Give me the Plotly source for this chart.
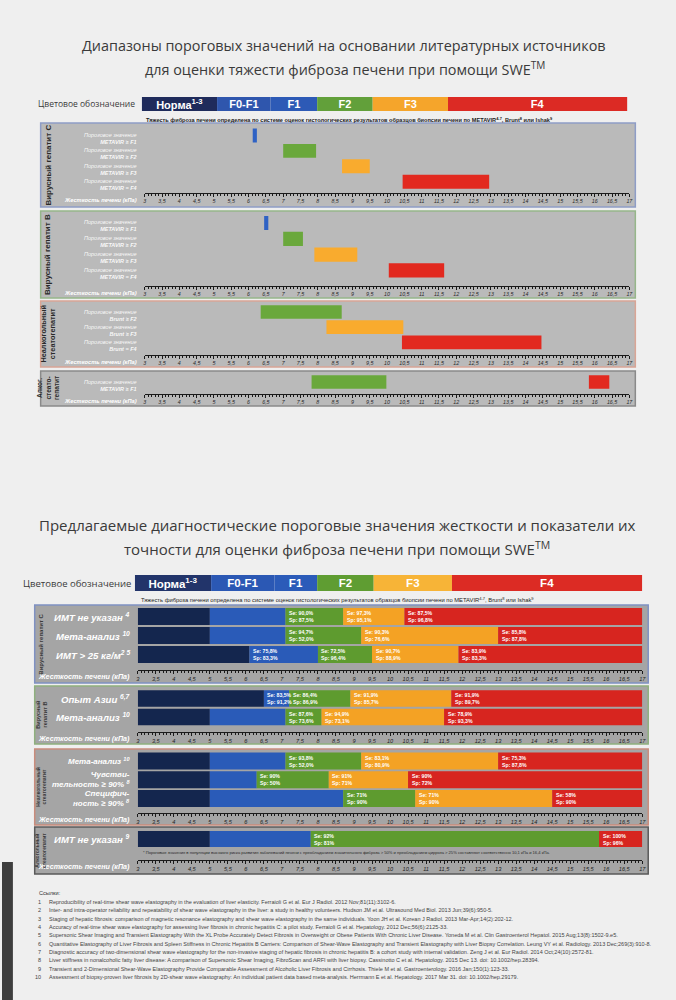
import plotly.graph_objects as go

# ======================= DATA =======================
title_top = ["Диапазоны пороговых значений на основании литературных источников",
             "для оценки тяжести фиброза печени при помощи SWE<sup>TM</sup>"]
title_bottom = ["Предлагаемые диагностические пороговые значения жесткости и показатели их",
                "точности для оценки фиброза печени при помощи SWE<sup>TM</sup>"]
legend_caption = "Цветовое обозначение"
legend_stages = ["Норма<sup>1-3</sup>", "F0-F1", "F1", "F2", "F3", "F4"]
histology_note = ("Тяжесть фиброза печени определена по системе оценок гистологических результатов "
                  "образцов биопсии печени по METAVIR<sup>4-7</sup>, Brunt<sup>8</sup> или Ishak<sup>9</sup>")
axis_title = "Жесткость печени (кПа)"
kpa_min, kpa_max = 3, 17
kpa_ticks = [3, 3.5, 4, 4.5, 5, 5.5, 6, 6.5, 7, 7.5, 8, 8.5, 9, 9.5, 10, 10.5, 11, 11.5,
             12, 12.5, 13, 13.5, 14, 14.5, 15, 15.5, 16, 16.5, 17]
kpa_labels = ["3", "3,5", "4", "4,5", "5", "5,5", "6", "6,5", "7", "7,5", "8", "8,5", "9", "9,5",
              "10", "10,5", "11", "11,5", "12", "12,5", "13", "13,5", "14", "14,5", "15", "15,5",
              "16", "16,5", "17"]

# --- top section: literature threshold ranges ---
threshold_caption = "Пороговое значение"
top_groups = ["Вирусный гепатит С", "Вирусный гепатит В", "Неалкогольный<br>стеатогепатит",
              "Алког.<br>стеато-<br>гепатит"]

top_hcv_rows = ["METAVIR ≥ F1", "METAVIR ≥ F2", "METAVIR ≥ F3", "METAVIR = F4"]
top_hcv_row = [0, 1, 2, 3]
top_hcv_stage = ["F1", "F2", "F3", "F4"]
top_hcv_low = [6.12, 7.0, 8.7, 10.45]
top_hcv_high = [6.24, 7.95, 9.5, 12.95]

top_hbv_rows = ["METAVIR ≥ F1", "METAVIR ≥ F2", "METAVIR ≥ F3", "METAVIR = F4"]
top_hbv_row = [0, 1, 2, 3]
top_hbv_stage = ["F1", "F2", "F3", "F4"]
top_hbv_low = [6.45, 7.0, 7.9, 10.05]
top_hbv_high = [6.57, 7.57, 9.14, 11.65]

top_nafld_rows = ["Brunt ≥ F2", "Brunt ≥ F3", "Brunt = F4"]
top_nafld_row = [0, 1, 2]
top_nafld_stage = ["F2", "F3", "F4"]
top_nafld_low = [6.35, 8.25, 10.43]
top_nafld_high = [8.69, 10.47, 14.46]

top_ald_rows = ["METAVIR ≥ F1"]
top_ald_row = [0, 0]
top_ald_stage = ["F2", "F4"]
top_ald_low = [7.82, 15.83]
top_ald_high = [9.98, 16.42]

# --- bottom section: proposed cut-offs with Se / Sp ---
bot_groups = ["Вирусный гепатит С", "Вирусный<br>гепатит В", "Неалкогольный<br>стеатогепатит",
              "Алкогольный<br>стеатогепатит"]

bot_hcv_rows = ["ИМТ не указан <sup>4</sup>", "Мета-анализ <sup>10</sup>", "ИМТ > 25 кг/м<sup>2 5</sup>"]
bot_hcv_cuts = [[5.0, 7.1, 8.7, 10.4], [5.0, 7.1, 9.2, 13.0], [6.1, 8.0, 9.5, 11.9]]
bot_hcv_se = [[None, None, "90,0%", "97,3%", "87,5%"],
              [None, None, "94,7%", "90,3%", "85,8%"],
              [None, "75,8%", "72,5%", "90,7%", "83,9%"]]
bot_hcv_sp = [[None, None, "87,5%", "95,1%", "96,8%"],
              [None, None, "52,0%", "76,6%", "87,8%"],
              [None, "83,3%", "96,4%", "88,9%", "83,3%"]]

bot_hbv_rows = ["Опыт Азии <sup>6,7</sup>", "Мета-анализ <sup>10</sup>"]
bot_hbv_cuts = [[6.5, 7.2, 8.9, 11.7], [5.0, 7.1, 8.1, 11.5]]
bot_hbv_se = [[None, "83,5%", "86,4%", "91,9%", "91,9%"],
              [None, None, "87,6%", "94,9%", "78,9%"]]
bot_hbv_sp = [[None, "91,2%", "86,9%", "85,7%", "89,7%"],
              [None, None, "73,6%", "73,1%", "93,3%"]]

bot_nafld_rows = ["Мета-анализ <sup>10</sup>", "Чувстви-<br>тельность ≥ 90% <sup>8</sup>",
                  "Специфич-<br>ность ≥ 90% <sup>8</sup>"]
bot_nafld_cuts = [[5.0, 7.1, 9.2, 13.0], [5.0, 6.3, 8.3, 10.5], [5.0, 8.7, 10.7, 14.5]]
bot_nafld_se = [[None, None, "93,8%", "83,1%", "75,3%"],
                [None, None, "90%", "91%", "90%"],
                [None, None, "71%", "71%", "58%"]]
bot_nafld_sp = [[None, None, "52,0%", "80,9%", "87,8%"],
                [None, None, "50%", "71%", "72%"],
                [None, None, "90%", "90%", "90%"]]

bot_ald_rows = ["ИМТ не указан <sup>9</sup>"]
bot_ald_cuts = [[5.0, 7.8, 15.8, 15.8]]
bot_ald_se = [[None, None, "92%", None, "100%"]]
bot_ald_sp = [[None, None, "81%", None, "96%"]]

ald_footnote = ("* Пороговые значения в популяции высокого риска развития заболеваний печени с преобладанием "
                "значительного фиброза > 50% и преобладанием цирроза > 25% составляют соответственно 10,1 кПа и 16,4 кПа.")

references_title = "Ссылки:"
references = [
    "Reproducibility of real-time shear wave elastography in the evaluation of liver elasticity. Ferraioli G et al. Eur J Radiol. 2012 Nov;81(11):3102-6.",
    "Inter- and intra-operator reliability and repeatability of shear wave elastography in the liver: a study in healthy volunteers. Hudson JM et al. Ultrasound Med Biol. 2013 Jun;39(6):950-5.",
    "Staging of hepatic fibrosis: comparison of magnetic resonance elastography and shear wave elastography in the same individuals. Yoon JH et al. Korean J Radiol. 2013 Mar-Apr;14(2):202-12.",
    "Accuracy of real-time shear wave elastography for assessing liver fibrosis in chronic hepatitis C: a pilot study. Ferraioli G et al. Hepatology. 2012 Dec;56(6):2125-33.",
    "Supersonic Shear Imaging and Transient Elastography With the XL Probe Accurately Detect Fibrosis in Overweight or Obese Patients With Chronic Liver Disease. Yoneda M et al. Clin Gastroenterol Hepatol. 2015 Aug;13(8):1502-9.e5.",
    "Quantitative Elastography of Liver Fibrosis and Spleen Stiffness in Chronic Hepatitis B Carriers: Comparison of Shear-Wave Elastography and Transient Elastography with Liver Biopsy Correlation. Leung VY et al. Radiology. 2013 Dec;269(3):910-8.",
    "Diagnostic accuracy of two-dimensional shear wave elastography for the non-invasive staging of hepatic fibrosis in chronic hepatitis B: a cohort study with internal validation. Zeng J et al. Eur Radiol. 2014 Oct;24(10):2572-81.",
    "Liver stiffness in nonalcoholic fatty liver disease: A comparison of Supersonic Shear Imaging, FibroScan and ARFI with liver biopsy. Cassinotto C et al. Hepatology. 2015 Dec 13. doi: 10.1002/hep.28394.",
    "Transient and 2-Dimensional Shear-Wave Elastography Provide Comparable Assessment of Alcoholic Liver Fibrosis and Cirrhosis. Thiele M et al. Gastroenterology. 2016 Jan;150(1):123-33.",
    "Assessment of biopsy-proven liver fibrosis by 2D-shear wave elastography: An individual patient data based meta-analysis. Herrmann E et al. Hepatology. 2017 Mar 31. doi: 10.1002/hep.29179.",
]

# ======================= STYLE / LAYOUT =======================
W, H = 676, 1000
BG = "#efefef"
SANS = "Liberation Sans, Arial, sans-serif"
TITLE_FONT = "Open Sans, Noto Sans, sans-serif"

legend_spans_top = [76, 54, 47, 56, 76, 181]
legend_spans_bot = [77, 64, 43, 57, 79, 192]
legend_colors_top = ["#1f2b5b", "#2f56ad", "#2d5ab6", "#62a03a", "#f5a52b", "#dc2a24"]
legend_colors_bot = ["#22346a", "#2b58b4", "#2b5bb9", "#5f9d32", "#f7b437", "#dc2b24"]
top_bar_colors = {"F1": "#2f62c4", "F2": "#6aa83c", "F3": "#f9ab2e", "F4": "#e2291f"}
seg_colors = ["#14264e", "#2a5bb8", "#5e9b2f", "#f4a224", "#d7251f"]


def px(x):
    return x / W


def py(y):
    return 1 - y / H


fig = go.Figure()
axes = {}
shapes = []
annotations = []
count = [0]


def add_axes(x0, x1, y0, y1, xrange, yrange):
    count[0] += 1
    s = "" if count[0] == 1 else str(count[0])
    axes["xaxis" + s] = dict(domain=[px(x0), px(x1)], range=xrange, visible=False,
                             anchor="y" + s, fixedrange=True, showgrid=False, zeroline=False)
    axes["yaxis" + s] = dict(domain=[py(y1), py(y0)], range=yrange, visible=False,
                             anchor="x" + s, fixedrange=True, showgrid=False, zeroline=False)
    return "x" + s, "y" + s, "xaxis" + s


def make_ruler(key, ruler_y, tick_size, tick_color):
    axes[key].update(
        visible=True, anchor="free", position=py(ruler_y), side="bottom",
        showline=True, linecolor="#1a1a1a", linewidth=1,
        ticks="outside", ticklen=3, tickwidth=0.8, tickcolor="#1a1a1a",
        tickmode="array", tickvals=kpa_ticks, ticktext=kpa_labels,
        tickfont=dict(size=tick_size, color=tick_color, family=SANS, style="italic"),
        minor=dict(dtick=0.1, tick0=3, ticks="outside", ticklen=1.6, tickwidth=0.5,
                   tickcolor="#1a1a1a", showgrid=False),
    )


def text(x, y, t, size, color="#333", anchor="center", yanchor="middle", xref="paper", yref="paper",
         family=SANS, angle=0, align="center", yshift=0, xshift=0):
    annotations.append(dict(x=x, y=y, xref=xref, yref=yref, text=t, showarrow=False,
                            font=dict(size=size, color=color, family=family),
                            xanchor=anchor, yanchor=yanchor, textangle=angle, align=align,
                            yshift=yshift, xshift=xshift))


def legend_row(y0, y1, x0, x1, spans, colors, label_x, cap_size, txt_size):
    xa, ya, _ = add_axes(x0, x1, y0, y1, [0, sum(spans)], [-0.5, 0.5])
    bases = []
    acc = 0
    for s in spans:
        bases.append(acc)
        acc += s
    fig.add_trace(go.Bar(
        y=[0] * len(spans), x=spans, base=bases, orientation="h", width=1.0,
        marker=dict(color=colors, line_width=0), text=["<b>" + n + "</b>" for n in legend_stages],
        textposition="inside", insidetextanchor="middle", textangle=0, constraintext="none",
        textfont=dict(color="white", size=txt_size, family=SANS),
        xaxis=xa, yaxis=ya, hoverinfo="skip", showlegend=False))
    text(px(label_x), py((y0 + y1) / 2), legend_caption, cap_size, "#3a3a3a", anchor="right",
         family="Open Sans, sans-serif")


# ---------------- Titles ----------------
text(px(345), py(45), title_top[0], 14.4, "#3a3a3a", family=TITLE_FONT)
text(px(346), py(68), title_top[1], 14.4, "#3a3a3a", family=TITLE_FONT)
text(px(338), py(525), title_bottom[0], 15, "#3a3a3a", family=TITLE_FONT)
text(px(338), py(548), title_bottom[1], 15, "#3a3a3a", family=TITLE_FONT)

# ---------------- Legends ----------------
legend_row(97, 111, 141, 631, legend_spans_top, legend_colors_top, 136, 8.5, 11)
text(px(143), py(119), "<b>" + histology_note + "</b>", 5.6, "#222", anchor="left")
legend_row(575, 591, 134, 646, legend_spans_bot, legend_colors_bot, 132, 9.5, 11.5)
text(px(138), py(599), histology_note, 5.8, "#222", anchor="left")

# ---------------- Top panels ----------------
top_panels = [
    dict(rows=top_hcv_rows, row=top_hcv_row, stage=top_hcv_stage, low=top_hcv_low, high=top_hcv_high,
         box=(39, 123, 639, 207), border="#8e9dc6", row0=135.5, step=15.4, ruler=193,
         glabel=top_groups[0], gsize=8),
    dict(rows=top_hbv_rows, row=top_hbv_row, stage=top_hbv_stage, low=top_hbv_low, high=top_hbv_high,
         box=(39, 211, 639, 298), border="#96b68a", row0=223, step=15.8, ruler=286,
         glabel=top_groups[1], gsize=8),
    dict(rows=top_nafld_rows, row=top_nafld_row, stage=top_nafld_stage, low=top_nafld_low,
         high=top_nafld_high, box=(39, 301, 639, 367), border="#d9a596", row0=312, step=15.2, ruler=355,
         glabel=top_groups[2], gsize=7.3),
    dict(rows=top_ald_rows, row=top_ald_row, stage=top_ald_stage, low=top_ald_low, high=top_ald_high,
         box=(39, 371, 639, 406), border="#8a8a8a", row0=382, step=15.0, ruler=394,
         glabel=top_groups[3], gsize=6.5),
]

for p in top_panels:
    bx0, by0, bx1, by1 = p["box"]
    shapes.append(dict(type="rect", xref="paper", yref="paper", x0=px(bx0), x1=px(bx1),
                       y0=py(by1), y1=py(by0), fillcolor="#bababa",
                       line=dict(color=p["border"], width=1.5), layer="below"))
    n = len(p["rows"])
    top = p["row0"] - p["step"] / 2
    bot = p["row0"] + (n - 0.5) * p["step"]
    xa, ya, xkey = add_axes(144, 633, top, bot, [kpa_min, kpa_max], [n - 0.5, -0.5])
    make_ruler(xkey, p["ruler"], 5.3, "#2a2a2a")
    fig.add_trace(go.Bar(
        y=p["row"], x=[h - l for l, h in zip(p["low"], p["high"])], base=p["low"], orientation="h",
        width=0.9, marker=dict(color=[top_bar_colors[s] for s in p["stage"]], line_width=0),
        xaxis=xa, yaxis=ya, hoverinfo="skip", showlegend=False))
    for i, r in enumerate(p["rows"]):
        text(px(138), i, "<i>" + threshold_caption + "</i><br><b><i>" + r + "</i></b>", 5.5,
             "rgba(255,255,255,0.92)", anchor="right", yref=ya, align="right", yshift=-3)
    text(px(138), py(p["ruler"] + 7), "<b><i>" + axis_title + "</i></b>", 5.7, "white", anchor="right")
    text(px(46), py((by0 + by1) / 2), "<b>" + p["glabel"] + "</b>", p["gsize"], "#2a2a2a",
         angle=-90)

# ---------------- Bottom panels ----------------
bot_panels = [
    dict(rows=bot_hcv_rows, cuts=bot_hcv_cuts, se=bot_hcv_se, sp=bot_hcv_sp,
         box=(33, 605, 652, 683), border="#7f91c2", row0=616.5, step=19, ruler=670,
         glabel=bot_groups[0], gsize=6, lsize=9.6),
    dict(rows=bot_hbv_rows, cuts=bot_hbv_cuts, se=bot_hbv_se, sp=bot_hbv_sp,
         box=(33, 686, 652, 744), border="#8fb07e", row0=698.5, step=18.5, ruler=732,
         glabel=bot_groups[1], gsize=5.5, lsize=9.6),
    dict(rows=bot_nafld_rows, cuts=bot_nafld_cuts, se=bot_nafld_se, sp=bot_nafld_sp,
         box=(33, 749, 652, 825), border="#c98c7c", row0=761, step=18.75, ruler=813,
         glabel=bot_groups[2], gsize=5, lsize=8),
    dict(rows=bot_ald_rows, cuts=bot_ald_cuts, se=bot_ald_se, sp=bot_ald_sp,
         box=(33, 827, 652, 874), border="#5a5a5a", row0=839, step=18, ruler=860,
         glabel=bot_groups[3], gsize=5, lsize=9.6),
]

for p in bot_panels:
    bx0, by0, bx1, by1 = p["box"]
    shapes.append(dict(type="rect", xref="paper", yref="paper", x0=px(bx0), x1=px(bx1),
                       y0=py(by1), y1=py(by0), fillcolor="#a5a5a5",
                       line=dict(color=p["border"], width=1.5), layer="below"))
    n = len(p["rows"])
    top = p["row0"] - p["step"] / 2
    bot = p["row0"] + (n - 0.5) * p["step"]
    xa, ya, xkey = add_axes(137, 646, top, bot, [kpa_min, kpa_max], [n - 0.5, -0.5])
    make_ruler(xkey, p["ruler"], 5.6, "#1e1e1e")
    edges = [[kpa_min] + c + [kpa_max] for c in p["cuts"]]
    for k in range(5):
        starts = [e[k] for e in edges]
        widths = [e[k + 1] - e[k] for e in edges]
        fig.add_trace(go.Bar(
            y=list(range(n)), x=widths, base=starts, orientation="h", width=0.9,
            marker=dict(color=seg_colors[k], line_width=0),
            xaxis=xa, yaxis=ya, hoverinfo="skip", showlegend=False))
        for i in range(n):
            if p["se"][i][k] is not None:
                text(starts[i], i, "<b>Se: " + p["se"][i][k] + "<br>Sp: " + p["sp"][i][k] + "</b>",
                     5.2, "white", anchor="left", xref=xa, yref=ya, align="left", xshift=1.5)
    for i, r in enumerate(p["rows"]):
        text(px(131), i, "<b><i>" + r + "</i></b>", p["lsize"], "white", anchor="right", yref=ya,
             align="right")
    text(px(131), py(p["ruler"] + 6), "<b><i>" + axis_title + "</i></b>", 7.2, "white", anchor="right")
    text(px(39), py((by0 + by1) / 2), "<b>" + p["glabel"] + "</b>", p["gsize"], "#3a3a3a", angle=-90)

text(px(140), py(852), ald_footnote, 4.1, "#2a2a2a", anchor="left")

# ---------------- References ----------------
text(px(35), py(893), references_title, 5.6, "#333", anchor="left")
for i, ref in enumerate(references):
    yy = py(902 + i * 8.35)
    text(px(41), yy, str(i + 1), 5.5, "#444", anchor="right")
    text(px(45), yy, ref, 5.5, "#444", anchor="left")

# photo edge strip at lower left
shapes.append(dict(type="rect", xref="paper", yref="paper", x0=0, x1=px(11), y0=0, y1=py(862),
                   fillcolor="#3e3e3e", line_width=0, layer="below"))

fig.update_layout(
    width=W, height=H, margin=dict(l=0, r=0, t=0, b=0),
    paper_bgcolor=BG, plot_bgcolor="rgba(0,0,0,0)",
    barmode="overlay", showlegend=False,
    shapes=shapes, annotations=annotations, **axes,
)

fig.write_html(
    "out.html",
    config={"displayModeBar": False},
    post_script="document.body.style.margin='0';document.body.style.overflow='hidden';"
                "document.body.style.background='" + BG + "';",
)
